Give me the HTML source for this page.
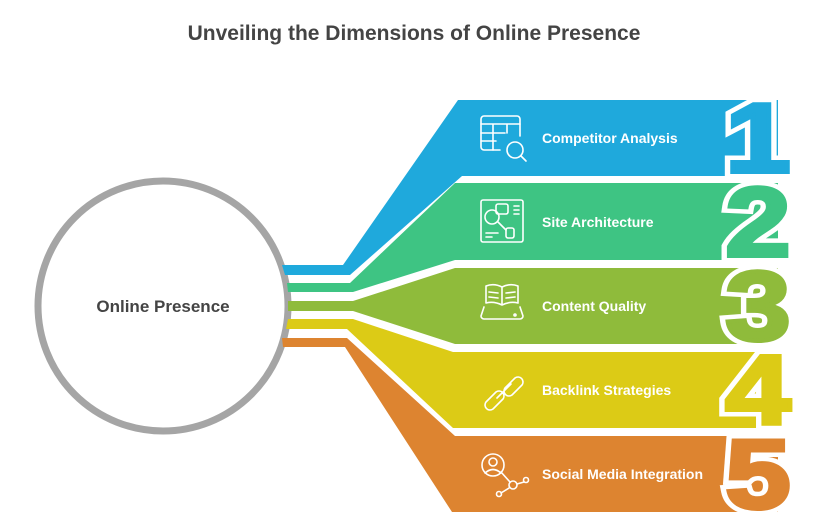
<!DOCTYPE html>
<html><head><meta charset="utf-8"><style>
html,body{margin:0;padding:0;background:#fff;width:828px;height:529px;overflow:hidden}
svg{display:block}
.t{font-family:"Liberation Sans",sans-serif;font-weight:bold}
.lbl{font-family:"Liberation Sans",sans-serif;font-weight:bold;font-size:14px;fill:#fff}
.dg text{font-family:"Liberation Sans",sans-serif;font-weight:bold;font-size:98px;stroke-linejoin:miter}
.w text{stroke:#fff;stroke-width:13;fill:#fff}
.ic{fill:none;stroke:#fff;stroke-width:1.6;stroke-linecap:round;stroke-linejoin:round}
</style></head><body>
<svg width="828" height="529" viewBox="0 0 828 529">
<text x="414" y="40" text-anchor="middle" class="t" font-size="21" fill="#444">Unveiling the Dimensions of Online Presence</text>
<circle cx="163" cy="306" r="125" fill="none" stroke="#a5a5a5" stroke-width="7"/>
<text x="163" y="312" text-anchor="middle" class="t" font-size="17" fill="#444">Online Presence</text>
<polygon fill="#1fa9dc" points="282,265 343,265 458,100 778,100 778,176 462,176 350,275 285,275"/>
<polygon fill="#3ec483" points="287,283 350,283 455,183 778,183 778,260 455,260 353,292 288,292"/>
<polygon fill="#8fbb3b" points="288,301 353,301 455,268 778,268 778,344 455,344 353,311 288,311"/>
<polygon fill="#dccb16" points="288,319 353,319 453,352 778,352 778,428 453,428 347,329 286,329"/>
<polygon fill="#dd8430" points="282,338 347,338 455,436 778,436 778,512 452,512 345,347 283,347"/>
<g class="dg w" transform="translate(758,0) scale(1.2,1)" text-anchor="middle">
<text x="0" y="172">1</text><text x="0" y="256">2</text><text x="0" y="340">3</text><text x="0" y="424">4</text><text x="0" y="508">5</text>
</g>
<g class="dg" transform="translate(758,0) scale(1.2,1)" text-anchor="middle" stroke-width="4">
<text x="0" y="172" fill="#1fa9dc" stroke="#1fa9dc">1</text>
<text x="0" y="256" fill="#3ec483" stroke="#3ec483">2</text>
<text x="0" y="340" fill="#8fbb3b" stroke="#8fbb3b">3</text>
<text x="0" y="424" fill="#dccb16" stroke="#dccb16">4</text>
<text x="0" y="508" fill="#dd8430" stroke="#dd8430">5</text>
</g>
<text x="542" y="143" class="lbl">Competitor Analysis</text>
<text x="542" y="227" class="lbl">Site Architecture</text>
<text x="542" y="311" class="lbl">Content Quality</text>
<text x="542" y="395" class="lbl">Backlink Strategies</text>
<text x="542" y="479" class="lbl">Social Media Integration</text>
<g class="ic">
<path d="M500 150 H484 a3 3 0 0 1 -3 -3 V119 a3 3 0 0 1 3 -3 H517 a3 3 0 0 1 3 3 V136"/>
<path d="M481 124 H520 M481 133 H505 M481 141 H496 M493 124 V150 M507 124 V133"/>
<circle cx="515" cy="150" r="8"/><path d="M521 156 L526 161"/>
<rect x="481" y="200" width="42" height="42" rx="2"/>
<circle cx="492" cy="217" r="7"/><rect x="496" y="204" width="12" height="10" rx="2"/>
<path d="M498 222 L506 230"/><rect x="506" y="228" width="8" height="10" rx="2"/>
<path d="M514 206 H519 M514 210 H519 M514 214 H519 M486 233 H498 M486 237 H492"/>
<path d="M502 287 V305 M502 287 Q494 283 486 286 V303 Q494 301 502 305 Q510 301 518 303 V286 Q510 283 502 287"/>
<path d="M489 292 L498 293 M489 297 L498 298 M506 293 L515 292 M506 298 L515 297"/>
<path d="M484 307 L481 316 a3 3 0 0 0 3 3 H520 a3 3 0 0 0 3 -3 L520 307"/><circle cx="515" cy="315" r="1"/>
<path d="M496 392 L486 402 a5 5 0 0 0 7 7 L503 399 a5 5 0 0 0 -7 -7 M505 388 L515 378 a5 5 0 0 1 7 7 L512 395 a5 5 0 0 1 -7 -7 M497 398 L511 384"/>
<circle cx="493" cy="465" r="11"/><circle cx="493" cy="462" r="4"/><path d="M485 473 Q493 466 501 473"/>
<path d="M501 472 L510 482"/><circle cx="513" cy="485" r="4"/><path d="M517 484 L524 482"/><circle cx="526" cy="480" r="2.5"/><path d="M509 488 L501 493"/><circle cx="499" cy="494" r="2.5"/>
</g>
</svg>
</body></html>
